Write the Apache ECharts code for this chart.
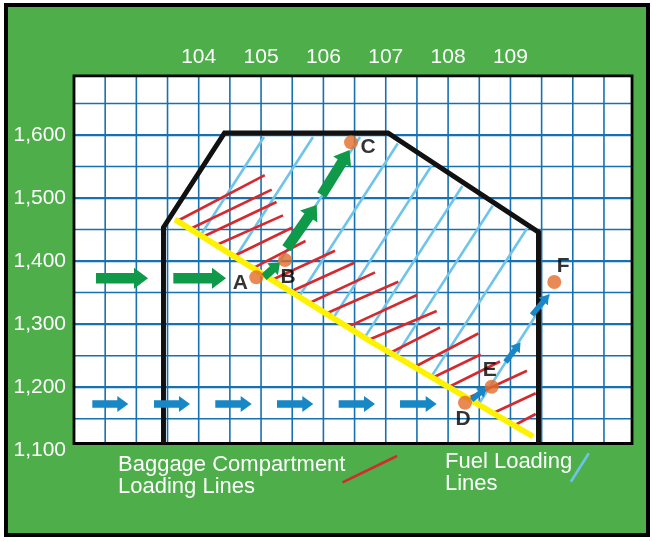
<!DOCTYPE html>
<html>
<head>
<meta charset="utf-8">
<script src="https://cdn.jsdelivr.net/npm/echarts/dist/echarts.min.js"></script>
<style>
  html, body { margin: 0; padding: 0; background: #ffffff; }
  #frame { position: absolute; left: 3.5px; top: 2.5px; width: 646.5px; height: 534.8px;
           box-sizing: border-box; border: 4.5px solid #000; background: #4dae4a; }
  #chart { position: absolute; left: 0; top: 0; width: 652px; height: 541px; }
</style>
</head>
<body>
<div id="frame"></div>
<div id="chart"></div>
<script>
// ---------------- data ----------------
const xTickLabels = [104, 105, 106, 107, 108, 109];
const yTickLabels = [1100, 1200, 1300, 1400, 1500, 1600];
const xGridLines = [102.5, 103, 103.5, 104, 104.5, 105, 105.5, 106, 106.5, 107, 107.5, 108, 108.5, 109, 109.5, 110, 110.5];
const yGridLines = [1150, 1200, 1250, 1300, 1350, 1400, 1450, 1500, 1550, 1600, 1650];
const plotArea = [102, 1110.6, 110.95, 1694];   // xMin, yMin, xMax, yMax of the white chart area

const envelope = [[103.435, 1110.6], [103.435, 1453.3], [104.414, 1603.2], [107.036, 1603.2], [109.45, 1446.1], [109.45, 1110.6]];
const emptyWeightLine = [[103.62, 1466], [106.747, 1273.2], [109.362, 1121.7]];

const pointNames = ['A', 'B', 'C', 'D', 'E', 'F'];
const pointValues = [[104.924, 1374.3], [105.384, 1401.7], [106.443, 1588.4], [108.271, 1175.3], [108.699, 1200.7], [109.703, 1366.8]];

// [x1, y1, x2, y2]
const fuelLoadingLines = [
  [104.029, 1440.7, 105.047, 1596.8],
  [104.590, 1406.2, 105.833, 1596.8],
  [105.127, 1373.0, 106.587, 1596.8],
  [105.607, 1343.5, 107.193, 1586.5],
  [106.157, 1309.6, 107.734, 1551.3],
  [106.661, 1278.6, 108.229, 1519.1],
  [107.160, 1249.3, 108.714, 1487.7],
  [107.729, 1216.3, 109.265, 1451.7],
  [108.486, 1172.5, 109.626, 1347.3]
];
const baggageLoadingLines = [
  [103.673, 1464.4, 105.060, 1536.5],
  [103.877, 1451.7, 105.171, 1513.5],
  [104.077, 1439.0, 105.248, 1493.7],
  [104.285, 1425.5, 105.352, 1472.6],
  [104.566, 1408.1, 105.504, 1453.3],
  [104.871, 1389.0, 105.713, 1431.9],
  [105.171, 1370.0, 106.186, 1416.5],
  [105.464, 1350.9, 106.496, 1397.4],
  [105.758, 1332.7, 106.828, 1382.2],
  [106.026, 1316.1, 107.201, 1367.3],
  [106.374, 1294.9, 107.501, 1346.2],
  [106.720, 1274.8, 107.817, 1320.8],
  [107.068, 1254.2, 107.870, 1294.9],
  [107.445, 1231.2, 108.484, 1285.1],
  [107.742, 1214.5, 108.523, 1251.8],
  [107.978, 1198.7, 108.832, 1240.7],
  [108.313, 1182.5, 109.265, 1226.1],
  [108.725, 1159.0, 109.405, 1190.3],
  [109.073, 1140.0, 109.405, 1157.4]
];

// arrows: [tailX, tailY, tipX, tipY]
const greenArrowsLarge = [
  [102.353, 1372.7, 103.187, 1372.7],
  [103.593, 1372.7, 104.438, 1372.7],
  [105.411, 1420.3, 105.893, 1489.0],
  [105.973, 1504.8, 106.419, 1576.2]
];
const greenArrowsSmall = [[105.047, 1374.7, 105.304, 1397.7]];
const blueArrowsRow = [
  [102.294, 1173.3, 102.871, 1173.3],
  [103.283, 1173.3, 103.860, 1173.3],
  [104.266, 1173.3, 104.850, 1173.3],
  [105.256, 1173.3, 105.838, 1173.3],
  [106.245, 1173.3, 106.828, 1173.3],
  [107.229, 1173.3, 107.817, 1173.3]
];
const blueArrowsSmall = [
  [108.378, 1179.6, 108.619, 1199.8],
  [108.921, 1239.9, 109.161, 1270.8],
  [109.346, 1314.5, 109.618, 1347.0]
];

// ---------------- styling / layout ----------------
const FONT = '"Liberation Sans", Arial, Helvetica, sans-serif';
const labelOffsets = { A: [-16, 6], B: [3, 17], C: [17, 5], D: [-2, 16], E: [-2, -17], F: [9, -16] };

function segmentRenderer(color, width) {
  return function (params, api) {
    const p1 = api.coord([api.value(0), api.value(1)]);
    const p2 = api.coord([api.value(2), api.value(3)]);
    return { type: 'line', shape: { x1: p1[0], y1: p1[1], x2: p2[0], y2: p2[1] },
             style: { stroke: color, lineWidth: width, lineCap: 'butt' } };
  };
}

function arrowRenderer(color, bodyW, headW, headL) {
  return function (params, api) {
    const a = api.coord([api.value(0), api.value(1)]);
    const b = api.coord([api.value(2), api.value(3)]);
    const dx = b[0] - a[0], dy = b[1] - a[1];
    const len = Math.hypot(dx, dy) || 1;
    const ux = dx / len, uy = dy / len, nx = -uy, ny = ux;
    const h = [b[0] - ux * headL, b[1] - uy * headL];
    const pts = [
      [a[0] + nx * bodyW / 2, a[1] + ny * bodyW / 2],
      [h[0] + nx * bodyW / 2, h[1] + ny * bodyW / 2],
      [h[0] + nx * headW / 2, h[1] + ny * headW / 2],
      [b[0], b[1]],
      [h[0] - nx * headW / 2, h[1] - ny * headW / 2],
      [h[0] - nx * bodyW / 2, h[1] - ny * bodyW / 2],
      [a[0] - nx * bodyW / 2, a[1] - ny * bodyW / 2]
    ];
    return { type: 'polygon', shape: { points: pts }, style: { fill: color } };
  };
}

function rectRenderer(fill, stroke, width) {
  return function (params, api) {
    const p1 = api.coord([api.value(0), api.value(3)]);
    const p2 = api.coord([api.value(2), api.value(1)]);
    return { type: 'rect', shape: { x: p1[0], y: p1[1], width: p2[0] - p1[0], height: p2[1] - p1[1] },
             style: { fill: fill, stroke: stroke, lineWidth: width } };
  };
}

const gridColor = '#1771b0';

const chart = echarts.init(document.getElementById('chart'), null, { renderer: 'canvas' });
chart.setOption({
  backgroundColor: 'transparent',
  animation: false,
  grid: { left: 74, right: 16.85, top: 72, bottom: 90.8, containLabel: false },
  xAxis: {
    type: 'value', position: 'top', min: 102, max: 111, interval: 1,
    axisLine: { show: false }, axisTick: { show: false }, splitLine: { show: false },
    axisLabel: { color: '#ffffff', fontSize: 21, fontFamily: FONT, margin: 4,
      formatter: v => xTickLabels.includes(v) ? String(v) : '' }
  },
  yAxis: {
    type: 'value', min: 1100, max: 1700, interval: 100,
    axisLine: { show: false }, axisTick: { show: false }, splitLine: { show: false },
    axisLabel: { color: '#ffffff', fontSize: 21, fontFamily: FONT, margin: 8,
      formatter: v => yTickLabels.includes(v) ? v.toLocaleString('en-US') : '' }
  },
  graphic: [
    { type: 'text', x: 118, y: 465, z: 100,
      style: { text: 'Baggage Compartment', fill: '#ffffff', font: '22px ' + FONT, verticalAlign: 'middle' } },
    { type: 'text', x: 118, y: 487, z: 100,
      style: { text: 'Loading Lines', fill: '#ffffff', font: '22px ' + FONT, verticalAlign: 'middle' } },
    { type: 'text', x: 445, y: 462, z: 100,
      style: { text: 'Fuel Loading', fill: '#ffffff', font: '22px ' + FONT, verticalAlign: 'middle' } },
    { type: 'text', x: 445, y: 484, z: 100,
      style: { text: 'Lines', fill: '#ffffff', font: '22px ' + FONT, verticalAlign: 'middle' } },
    { type: 'line', z: 100, shape: { x1: 342.5, y1: 482.3, x2: 397, y2: 456 },
      style: { stroke: '#d42a2f', lineWidth: 2.6 } },
    { type: 'line', z: 100, shape: { x1: 570.8, y1: 481.7, x2: 588.8, y2: 453.3 },
      style: { stroke: '#6fc3e8', lineWidth: 2.6 } }
  ],
  series: [
    { type: 'custom', name: 'plot background', z: 1, silent: true,
      renderItem: rectRenderer('#ffffff', null, 0), data: [plotArea] },
    { type: 'custom', name: 'vertical grid', z: 2, silent: true,
      renderItem: function (params, api) {
        const p1 = api.coord([api.value(0), plotArea[1]]);
        const p2 = api.coord([api.value(0), plotArea[3]]);
        return { type: 'line', shape: { x1: p1[0], y1: p1[1], x2: p2[0], y2: p2[1] },
                 style: { stroke: gridColor, lineWidth: 1.6 } };
      },
      data: xGridLines.map(v => [v, plotArea[1]]) },
    { type: 'custom', name: 'horizontal grid', z: 2, silent: true,
      renderItem: function (params, api) {
        const v = api.value(1);
        const p1 = api.coord([plotArea[0], v]);
        const p2 = api.coord([plotArea[2], v]);
        return { type: 'line', shape: { x1: p1[0], y1: p1[1], x2: p2[0], y2: p2[1] },
                 style: { stroke: gridColor, lineWidth: v % 100 === 0 ? 2.2 : 1.5 } };
      },
      data: yGridLines.map(v => [plotArea[0], v]) },
    { type: 'custom', name: 'Fuel Loading Lines', z: 3, silent: true,
      renderItem: segmentRenderer('#6ec4ea', 2.6), data: fuelLoadingLines },
    { type: 'custom', name: 'Baggage Compartment Loading Lines', z: 4, silent: true,
      renderItem: segmentRenderer('#d42a2f', 2.6), data: baggageLoadingLines },
    { type: 'line', name: 'empty weight line', z: 5, data: emptyWeightLine, symbol: 'none',
      lineStyle: { color: '#fff200', width: 6 } },
    { type: 'line', name: 'envelope', z: 6, data: envelope, symbol: 'none',
      lineStyle: { color: '#111111', width: 5, join: 'miter' } },
    { type: 'custom', name: 'plot border', z: 6, silent: true,
      renderItem: rectRenderer(null, '#000000', 2.8), data: [plotArea] },
    { type: 'custom', name: 'green arrows', z: 7, silent: true,
      renderItem: arrowRenderer('#0e9a48', 10.5, 21, 14), data: greenArrowsLarge },
    { type: 'custom', name: 'green small arrow', z: 7, silent: true,
      renderItem: arrowRenderer('#0e9a48', 8, 16, 10), data: greenArrowsSmall },
    { type: 'custom', name: 'blue arrows', z: 7, silent: true,
      renderItem: arrowRenderer('#1787c6', 7.5, 16, 11), data: blueArrowsRow },
    { type: 'custom', name: 'blue small arrows', z: 7, silent: true,
      renderItem: arrowRenderer('#1787c6', 5.5, 12, 9), data: blueArrowsSmall },
    { type: 'scatter', name: 'points', z: 8, symbol: 'circle', symbolSize: 14,
      itemStyle: { color: '#e36c2b' },
      label: { show: true, position: 'inside', formatter: '{b}', color: '#000000',
               fontSize: 21, fontWeight: 'bold', fontFamily: FONT },
      data: pointValues.map((v, i) => ({ name: pointNames[i], value: v,
              label: { offset: labelOffsets[pointNames[i]] } })) }
  ]
});
</script>
</body>
</html>
